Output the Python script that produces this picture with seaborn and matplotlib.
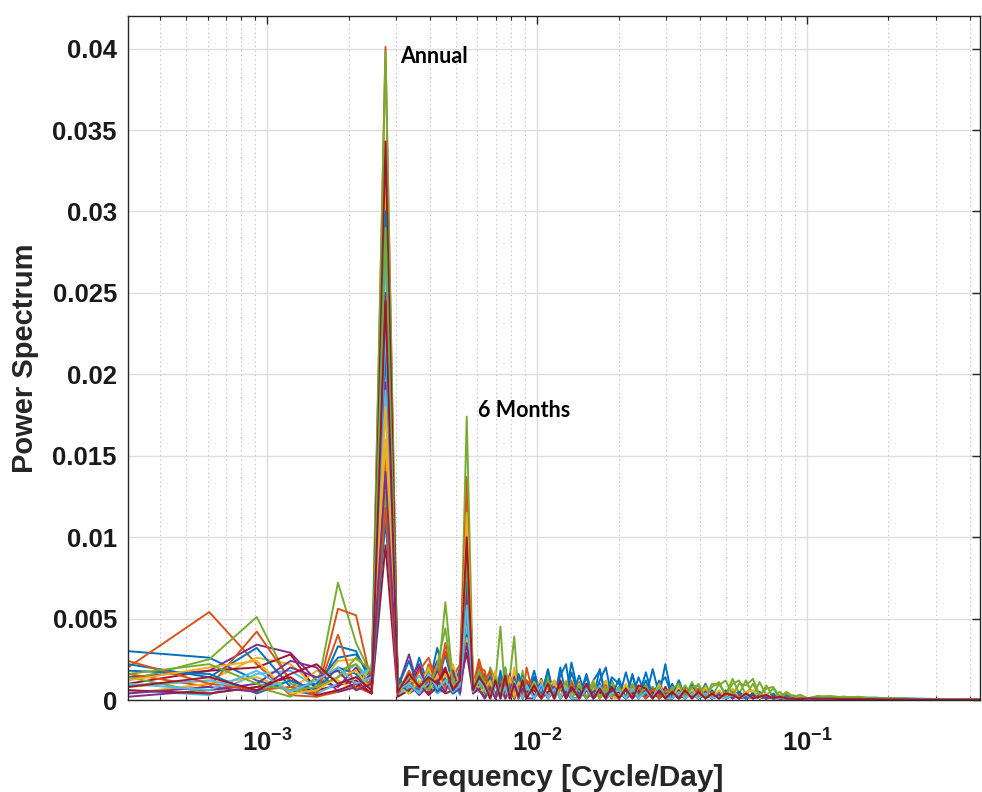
import numpy as np
import pandas as pd
import matplotlib
matplotlib.use("Agg")
import matplotlib.pyplot as plt
import seaborn as sns
from matplotlib.ticker import LogLocator, NullFormatter

# Record length in days: frequency of FFT bin k is k / RECORD_DAYS (cycles/day)
RECORD_DAYS = 3288
POWER_UNIT = 1e-4  # series values below are in units of 1e-4

# FFT bins that are drawn: every bin up to 20, then a thinned set out to ~0.44 cpd
LOW_BINS = list(range(1, 21))
TAIL_BINS = [21, 22, 23, 24, 25, 26, 27, 28, 29, 30,
             32, 34, 36, 38, 40, 42, 44,
             47, 50, 53, 56, 59, 62,
             66, 70, 74, 78,
             83, 88, 93, 98,
             104, 110, 116, 123, 130, 138, 146,
             155, 164, 174, 184, 195, 207, 219, 232, 246, 260, 276, 292, 310, 330,
             360, 400, 450, 510, 580, 660, 750, 860, 980, 1120, 1280, 1437]

# Power spectra of the individual stations (bins LOW_BINS followed by TAIL_BINS)
st01 = [30, 26, 12, 6, 3, 33, 30, 10, 215, 14, 5, 26, 8, 32, 12, 6, 20, 83, 8, 14,
        3, 18, 2, 12, 1, 9, 15, 2, 11, 1, 14, 2, 18, 1, 20, 3, 23, 2, 16, 1, 19, 2, 12,
        1, 17, 2, 14, 2, 19, 3, 22, 1, 12, 1, 9, 2, 10, 1,
        5, 1, 6, 1, 5, 1, 4, 1, 4, 1, 3, 1, 3, 0.5,
        2, 1.5, 2, 1, 1.5, 1, 1, 0.8, 0.6, 0.5, 0.4, 0.3]
st02 = [20, 54, 22, 3, 2, 5, 8, 4, 401, 6, 12, 4, 22, 9, 35, 7, 13, 137, 5, 22,
        10, 2, 15, 1, 12, 2, 9, 14, 1, 20, 1, 10, 2, 12, 1, 9, 2, 11, 1, 8, 1, 10, 2,
        7, 1, 9, 1, 8, 1, 6, 2, 5, 1, 8, 1, 6, 1, 5,
        1, 4, 1, 5, 1, 4, 1, 3, 1, 3, 1, 2, 1, 1,
        1.5, 1, 1.2, 0.8, 1, 0.7, 0.6, 0.5, 0.5, 0.4, 0.3, 0.3]
st03 = [8, 12, 26, 22, 8, 24, 25, 18, 325, 4, 9, 18, 5, 12, 6, 15, 4, 60, 10, 6,
        15, 1, 11, 2, 18, 1, 9, 2, 12, 1, 9, 1, 12, 2, 8, 1, 10, 1, 9, 2, 7, 12, 1,
        8, 1, 6, 1, 7, 1, 9, 1, 1, 6, 1, 9, 1, 6, 1,
        4, 1, 6, 1, 5, 1, 4, 1, 3, 1, 2, 1, 2, 0.5,
        1, 1.2, 0.8, 1, 0.6, 0.7, 0.5, 0.5, 0.4, 0.3, 0.3, 0.2]
st04 = [14, 18, 34, 29, 12, 8, 20, 6, 195, 8, 28, 5, 12, 24, 7, 10, 5, 103, 6, 18,
        2, 12, 1, 16, 2, 10, 1, 8, 2, 11, 1, 13, 2, 9, 1, 7, 2, 8, 1, 6, 10, 1, 6,
        1, 7, 2, 6, 1, 8, 1, 6, 1, 6, 1, 5, 1, 7, 1,
        3, 1, 4, 1, 3, 1, 5, 1, 2, 1, 2, 1, 1.5, 0.5,
        1.2, 0.8, 1, 0.7, 0.6, 0.5, 0.5, 0.4, 0.4, 0.3, 0.3, 0.2]
st05 = [12, 25, 51, 10, 5, 72, 35, 15, 398, 3, 10, 6, 18, 8, 60, 12, 7, 174, 10, 16,
        3, 20, 12, 45, 2, 14, 39, 3, 18, 2, 12, 2, 15, 1, 10, 2, 12, 1, 10, 2, 8, 1, 11,
        2, 9, 1, 7, 1, 8, 2, 7, 2, 9, 2, 11, 3, 9, 2,
        10, 3, 13, 4, 12, 3, 11, 3, 7, 2, 5, 2, 3, 1,
        2, 2.5, 1.5, 2, 1.2, 1, 0.8, 0.6, 0.5, 0.4, 0.3, 0.3]
st06 = [6, 3, 16, 18, 8, 14, 22, 12, 275, 5, 7, 15, 6, 20, 9, 5, 12, 70, 4, 9,
        1, 9, 1, 7, 12, 1, 8, 1, 6, 10, 1, 8, 1, 11, 1, 7, 1, 1, 8, 1, 4, 9, 1,
        6, 1, 5, 8, 1, 6, 1, 5, 4, 1, 6, 1, 4, 5, 1,
        3, 1, 2, 3, 1, 2, 3, 1, 2, 1, 2, 1, 1, 0.5,
        1, 0.8, 1, 0.6, 0.7, 0.5, 0.5, 0.4, 0.3, 0.3, 0.2, 0.2]
st07 = [10, 18, 20, 28, 6, 9, 12, 4, 343, 10, 6, 20, 5, 9, 18, 4, 8, 92, 7, 12,
        2, 14, 1, 10, 2, 16, 1, 9, 1, 12, 2, 11, 1, 8, 2, 10, 1, 9, 1, 7, 1, 8, 2,
        1, 8, 1, 6, 2, 7, 1, 8, 1, 6, 1, 5, 1, 6, 1,
        4, 1, 5, 1, 4, 1, 3, 1, 3, 1, 2, 1, 1, 0.5,
        1, 1, 0.8, 0.7, 0.6, 0.5, 0.4, 0.4, 0.3, 0.3, 0.2, 0.2]
st08 = [22, 14, 32, 8, 10, 26, 28, 14, 300, 8, 24, 6, 15, 10, 28, 9, 16, 75, 12, 7,
        16, 2, 14, 1, 20, 2, 12, 1, 15, 2, 18, 1, 12, 2, 15, 22, 1, 15, 1, 12, 18, 1, 14,
        10, 1, 15, 2, 17, 2, 12, 1, 10, 1, 8, 1, 7, 1, 6,
        1, 6, 1, 5, 1, 4, 1, 3, 1, 2, 1, 2, 1, 0.5,
        1.5, 1, 1.2, 0.8, 0.7, 0.6, 0.5, 0.5, 0.4, 0.3, 0.3, 0.2]
st09 = [16, 8, 42, 12, 2, 56, 52, 10, 150, 12, 6, 18, 26, 10, 30, 14, 22, 125, 9, 25,
        12, 18, 1, 14, 1, 11, 2, 15, 1, 9, 13, 1, 9, 1, 11, 2, 8, 1, 7, 10, 1, 6, 1,
        8, 1, 7, 1, 6, 1, 8, 1, 5, 1, 7, 1, 5, 1, 4,
        1, 5, 1, 4, 1, 2, 3, 1, 2, 1, 1.5, 1, 1, 0.5,
        0.8, 1, 0.7, 0.6, 0.5, 0.5, 0.4, 0.4, 0.3, 0.3, 0.2, 0.2]
st10 = [4, 10, 14, 6, 18, 12, 6, 22, 160, 6, 14, 8, 20, 6, 16, 10, 5, 115, 12, 8,
        10, 1, 18, 2, 12, 1, 20, 1, 10, 2, 8, 12, 1, 10, 1, 12, 2, 10, 1, 7, 1, 11, 2,
        1, 9, 1, 7, 9, 1, 7, 2, 7, 1, 6, 8, 1, 7, 1,
        5, 1, 6, 1, 5, 1, 4, 1, 2, 3, 1, 1.5, 2, 0.5,
        1.2, 1, 0.8, 0.8, 0.6, 0.5, 0.5, 0.4, 0.3, 0.3, 0.3, 0.2]
st11 = [2, 6, 10, 24, 20, 5, 8, 16, 250, 4, 12, 22, 4, 18, 10, 6, 14, 65, 5, 10,
        8, 1, 12, 2, 9, 1, 14, 1, 8, 2, 10, 1, 8, 1, 9, 2, 7, 1, 9, 1, 6, 1, 8,
        5, 1, 7, 1, 6, 1, 5, 1, 4, 1, 3, 4, 6, 1, 4,
        1, 4, 1, 3, 1, 4, 1, 3, 1, 1.5, 1, 1, 1, 0.5,
        1, 0.8, 0.7, 0.6, 0.6, 0.5, 0.4, 0.3, 0.3, 0.3, 0.2, 0.2]
st12 = [14, 4, 8, 2, 14, 18, 22, 8, 128, 5, 9, 4, 14, 6, 10, 20, 8, 50, 6, 11,
        2, 10, 1, 8, 14, 2, 10, 1, 12, 2, 8, 1, 11, 2, 7, 10, 1, 8, 1, 9, 2, 5, 10,
        2, 9, 1, 8, 7, 1, 9, 2, 8, 2, 9, 3, 10, 2, 8,
        11, 3, 10, 12, 3, 10, 2, 9, 2, 5, 1, 3, 1, 1,
        2, 1.5, 1.2, 1.5, 1, 0.8, 0.7, 0.5, 0.4, 0.4, 0.3, 0.2]
st13 = [9, 12, 6, 12, 4, 10, 14, 20, 190, 3, 8, 5, 10, 4, 7, 12, 3, 45, 8, 5,
        6, 1, 9, 1, 7, 10, 1, 6, 1, 8, 1, 7, 1, 6, 9, 1, 6, 6, 1, 5, 7, 1, 5,
        1, 6, 1, 5, 1, 5, 1, 6, 1, 4, 1, 5, 1, 4, 1,
        2, 1, 3, 1, 2, 3, 1, 2, 1, 2, 1, 1, 0.5, 0.8,
        0.8, 0.7, 0.6, 0.6, 0.5, 0.4, 0.4, 0.3, 0.3, 0.2, 0.2, 0.2]
st14 = [6, 4, 8, 14, 3, 6, 10, 4, 95, 2, 6, 10, 3, 8, 4, 6, 10, 29, 4, 7,
        1, 7, 1, 9, 1, 6, 1, 8, 1, 5, 6, 1, 5, 8, 1, 5, 1, 1, 6, 1, 5, 1, 4,
        5, 1, 4, 6, 1, 5, 1, 4, 4, 1, 3, 4, 1, 3, 1,
        3, 1, 3, 1, 2, 3, 1, 2, 1, 1, 1, 0.5, 0.8, 0.5,
        0.6, 0.6, 0.5, 0.5, 0.4, 0.4, 0.3, 0.3, 0.2, 0.2, 0.2, 0.1]
st15 = [18, 16, 4, 12, 6, 20, 16, 6, 110, 12, 4, 8, 16, 5, 10, 4, 7, 40, 6, 15,
        9, 14, 1, 18, 2, 12, 1, 16, 9, 1, 14, 2, 19, 1, 12, 2, 17, 2, 14, 1, 12, 20, 2,
        13, 1, 16, 2, 12, 1, 10, 14, 2, 12, 1, 9, 1, 8, 1,
        5, 1, 3, 5, 1, 4, 1, 2, 3, 1, 2, 1, 1, 0.5,
        1.2, 1, 0.8, 0.7, 0.6, 0.5, 0.5, 0.4, 0.3, 0.3, 0.2, 0.2]
st16 = [24, 10, 6, 8, 4, 40, 6, 12, 118, 4, 18, 7, 12, 20, 8, 6, 15, 55, 8, 20,
        18, 1, 12, 1, 10, 15, 1, 9, 1, 12, 8, 1, 10, 1, 9, 1, 11, 1, 8, 1, 6, 9, 1,
        7, 1, 6, 8, 1, 7, 1, 6, 6, 1, 5, 1, 7, 1, 5,
        1, 3, 5, 1, 4, 1, 3, 1, 2, 1, 1.5, 1, 1, 0.5,
        1, 0.8, 0.8, 0.6, 0.6, 0.5, 0.4, 0.4, 0.3, 0.3, 0.2, 0.2]
st17 = [12, 20, 24, 4, 6, 14, 18, 6, 180, 8, 4, 12, 6, 15, 5, 22, 6, 38, 14, 5,
        7, 12, 1, 9, 1, 14, 2, 11, 7, 1, 11, 1, 8, 12, 1, 9, 1, 9, 1, 12, 1, 8, 2,
        1, 10, 1, 8, 8, 1, 10, 1, 1, 9, 1, 7, 1, 8, 1,
        6, 1, 7, 1, 5, 6, 1, 4, 1, 2, 1, 1.5, 1, 0.5,
        1, 1, 0.8, 0.7, 0.6, 0.5, 0.5, 0.4, 0.3, 0.3, 0.3, 0.2]
st18 = [4, 8, 5, 20, 14, 18, 6, 10, 140, 6, 10, 3, 9, 12, 5, 18, 4, 35, 9, 6,
        1, 8, 1, 10, 1, 7, 12, 1, 7, 1, 1, 9, 1, 6, 8, 1, 6, 7, 1, 5, 8, 1, 6,
        1, 6, 1, 5, 5, 1, 6, 1, 1, 5, 1, 4, 1, 5, 1,
        3, 1, 4, 1, 3, 1, 3, 1, 2, 1, 1, 0.5, 1, 0.5,
        0.8, 0.6, 0.6, 0.5, 0.5, 0.4, 0.3, 0.3, 0.3, 0.2, 0.2, 0.1]
st19 = [16, 22, 10, 6, 8, 14, 26, 18, 290, 8, 14, 10, 6, 22, 44, 10, 12, 85, 7, 18,
        10, 2, 14, 2, 20, 2, 12, 1, 14, 2, 10, 1, 12, 2, 6, 11, 1, 9, 1, 11, 1, 8, 2,
        8, 1, 10, 2, 9, 1, 8, 2, 7, 10, 2, 8, 9, 2, 10,
        9, 12, 3, 10, 9, 13, 3, 7, 8, 2, 4, 2, 3, 1,
        2.5, 1.5, 2, 1.2, 1, 1, 0.8, 0.6, 0.5, 0.4, 0.3, 0.2]
st20 = [10, 6, 18, 5, 12, 20, 10, 14, 230, 6, 10, 4, 16, 7, 12, 5, 9, 58, 5, 12,
        7, 1, 10, 1, 8, 1, 11, 6, 1, 9, 1, 10, 1, 7, 1, 8, 1, 1, 7, 1, 9, 1, 4,
        6, 1, 7, 1, 5, 1, 7, 1, 1, 5, 1, 4, 1, 4, 1,
        2, 1, 3, 1, 3, 1, 2, 3, 1, 1.5, 1, 1, 0.5, 0.8,
        0.8, 0.6, 0.7, 0.5, 0.5, 0.4, 0.3, 0.3, 0.3, 0.2, 0.2, 0.1]
st21 = [8, 14, 6, 16, 22, 10, 14, 6, 245, 5, 16, 8, 14, 10, 20, 6, 12, 100, 6, 14,
        9, 1, 12, 1, 15, 1, 10, 2, 12, 1, 9, 1, 10, 1, 12, 1, 8, 1, 10, 1, 7, 1, 8,
        1, 7, 1, 9, 7, 1, 6, 1, 5, 1, 6, 1, 5, 1, 4,
        1, 4, 3, 1, 4, 1, 2, 3, 1, 2, 1, 1, 0.5, 1,
        0.8, 0.8, 0.6, 0.6, 0.5, 0.4, 0.4, 0.3, 0.3, 0.2, 0.2, 0.2]

STATIONS = [st01, st02, st03, st04, st05, st06, st07, st08, st09, st10, st11,
            st12, st13, st14, st15, st16, st17, st18, st19, st20, st21]

Y_TICKS = [0, 0.005, 0.01, 0.015, 0.02, 0.025, 0.03, 0.035, 0.04]
Y_TICK_LABELS = ["0", "0.005", "0.01", "0.015", "0.02", "0.025", "0.03", "0.035", "0.04"]
X_TICKS = [1e-3, 1e-2, 1e-1]
X_TICK_LABELS = [r"$10^{-3}$", r"$10^{-2}$", r"$10^{-1}$"]

PEAK_LABELS = ["Annual", "6 Months"]
PEAK_LABEL_POS = [(0.00311, 0.0395), (0.00605, 0.01776)]

# MATLAB default colour order
LINE_COLORS = ["#0072BD", "#D95319", "#EDB120", "#7E2F8E", "#77AC30", "#4DBEEE", "#A2142F"]

# ---- build long-form table ----
bins = np.array(LOW_BINS + TAIL_BINS)
freq = bins / RECORD_DAYS
frames = []
names = []
for i, vals in enumerate(STATIONS):
    name = f"S{i + 1:02d}"
    names.append(name)
    frames.append(pd.DataFrame({"freq": freq,
                                "power": np.asarray(vals, dtype=float) * POWER_UNIT,
                                "station": name}))
df = pd.concat(frames, ignore_index=True)
palette = {n: LINE_COLORS[i % len(LINE_COLORS)] for i, n in enumerate(names)}

sns.set_style("white")
plt.rcParams["mathtext.default"] = "regular"
SANS = ["Liberation Sans", "DejaVu Sans"]
ANNOT = ["Lato", "Open Sans", "DejaVu Sans"]

fig = plt.figure(figsize=(9.82, 7.92), dpi=100)
ax = fig.add_axes([128 / 982, 1 - 700 / 792, (980 - 128) / 982, (700 - 16) / 792])

sns.lineplot(data=df, x="freq", y="power", hue="station", hue_order=names,
             palette=palette, estimator=None, sort=False, legend=False,
             linewidth=1.4, ax=ax)

ax.set_xscale("log")
ax.set_xlim(1 / RECORD_DAYS, 0.437)
ax.set_ylim(0, 0.042)

# ticks
ax.set_yticks(Y_TICKS)
ax.set_yticklabels(Y_TICK_LABELS, fontfamily=SANS, fontweight="bold", fontsize=18.5)
ax.set_xticks(X_TICKS)
ax.set_xticklabels(X_TICK_LABELS, fontfamily=SANS, fontweight="bold", fontsize=18.5)
ax.xaxis.set_minor_locator(LogLocator(base=10, subs=np.arange(2, 10), numticks=20))
ax.xaxis.set_minor_formatter(NullFormatter())
ax.tick_params(axis="both", which="major", direction="in", length=6, width=1.0,
               color="#262626", top=True, right=True)
ax.tick_params(axis="x", which="minor", direction="in", length=3, width=0.8,
               color="#262626", top=True, bottom=True)
ax.tick_params(axis="x", which="major", pad=21, labelcolor="#1a1a1a")
ax.tick_params(axis="y", which="major", pad=8, labelcolor="#1a1a1a")

# grid
ax.grid(True, which="major", color="#dedede", linewidth=1.0, linestyle="-")
ax.grid(True, which="minor", axis="x", color="#b8b8b8", linewidth=0.8, linestyle=(0, (1, 3)))
ax.set_axisbelow(True)

for sp in ax.spines.values():
    sp.set_color("#262626")
    sp.set_linewidth(1.0)

# axis labels
ax.set_xlabel("Frequency [Cycle/Day]", fontfamily=SANS, fontweight="bold",
              fontsize=21.5, color="#262626")
ax.xaxis.set_label_coords(0.51, -0.093)
ax.set_ylabel("Power Spectrum", fontfamily=SANS, fontweight="bold",
              fontsize=21, color="#262626", va="center")
ax.yaxis.set_label_coords(-0.121, 0.5)

# peak annotations
for txt, (fx, py) in zip(PEAK_LABELS, PEAK_LABEL_POS):
    ax.text(fx, py, txt, fontfamily=ANNOT, fontweight="bold", fontsize=15.5,
            ha="left", va="center", color="black")

fig.savefig("out.png", dpi=100, facecolor="white")
